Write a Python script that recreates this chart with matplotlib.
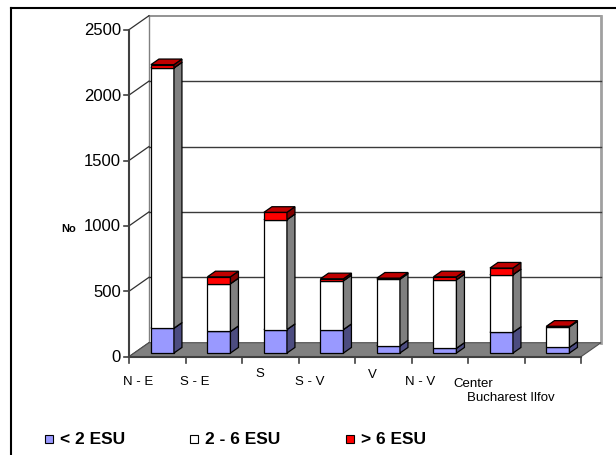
import matplotlib
matplotlib.use("Agg")
import matplotlib.pyplot as plt
from matplotlib.patches import Polygon, Rectangle
from matplotlib.lines import Line2D

plt.rcParams["font.family"] = ["Liberation Sans", "DejaVu Sans"]

# farms per development region, split by economic size class
regions = ["N - E", "S - E", "S", "S - V", "V", "N - V", "Center", "Bucharest Ilfov"]
small = [190, 165, 180, 180, 55, 37, 158, 44]        # < 2 ESU
medium = [1990, 365, 840, 373, 510, 523, 441, 157]   # 2 - 6 ESU
large = [25, 53, 56, 15, 8, 23, 51, 4]               # > 6 ESU
series_names = ["< 2 ESU", "2 - 6 ESU", "> 6 ESU"]
yticks = [0, 500, 1000, 1500, 2000, 2500]

# front, side and top shading of each series
face_colors = [
    ("#9999ff", "#4c4c80", "#7a7acc"),
    ("#ffffff", "#808080", "#cccccc"),
    ("#ff0000", "#800000", "#c00000"),
]

W, H = 616, 456
fig = plt.figure(figsize=(W / 100, H / 100), dpi=100)
ax = fig.add_axes([0, 0, 1, 1])

# pixel scale of the front plane: one category, one value unit
cat_px = 56.5
val_px = 0.1308
x0_px, y0_px = 129, 357.7
ax.set_xlim(-x0_px / cat_px, (W - x0_px) / cat_px)
ax.set_ylim((y0_px - H) / val_px, y0_px / val_px)
ax.axis("off")

ncat = len(regions)
ymax = yticks[-1]
# depth of the floor / walls in data units
DX = 20 / cat_px
DY = 14 / val_px

# back wall
ax.add_patch(Polygon([(DX, DY), (ncat + DX, DY), (ncat + DX, ymax + DY), (DX, ymax + DY)],
                     closed=True, facecolor="white", edgecolor="none", zorder=1))
ax.plot([DX, ncat + DX], [ymax + DY, ymax + DY], color="#808080", lw=1.2, zorder=2)
ax.plot([ncat + DX, ncat + DX], [DY, ymax + DY], color="#a0a0a0", lw=2.0, zorder=2)
ax.plot([DX, DX], [DY, ymax + DY], color="#808080", lw=1.0, zorder=2)

# gridlines on the back wall and their diagonals to the front axis
for v in yticks:
    if 0 < v < ymax:
        ax.plot([DX, ncat + DX], [v + DY, v + DY], color="#3a3a3a", lw=1.0, zorder=2)
    ax.plot([0, DX], [v, v + DY], color="#303030", lw=0.9, zorder=2)

# floor
ax.add_patch(Polygon([(0, 0), (ncat, 0), (ncat + DX, DY), (DX, DY)],
                     closed=True, facecolor="#808080", edgecolor="#505050", lw=0.8, zorder=3))

# front value axis with ticks and labels
tick_len = 5 / cat_px
ax.plot([0, 0], [0, ymax], color="#404040", lw=1.5, zorder=4)
for v in yticks:
    ax.plot([-tick_len, 0], [v, v], color="#404040", lw=1.2, zorder=4)
    ax.text(-8 / cat_px, v, str(v), ha="right", va="center", fontsize=12)

# category axis line and ticks at the category boundaries
ax.plot([0, ncat], [0, 0], color="#404040", lw=1.5, zorder=4)
for i in range(ncat + 1):
    ax.plot([i, i], [0, -6 / val_px], color="#404040", lw=1.2, zorder=4)

ax.text(-60 / cat_px, (y0_px - 229) / val_px, "No", ha="center", va="center",
        fontsize=8, fontweight="bold")

# staggered category labels
label_x = [0.16, 1.17, 2.31, 3.20, 4.30, 5.15, 6.09, 6.76]
label_y = [-186, -186, -125, -186, -136, -186, -201, -308]
for name, lx, ly in zip(regions, label_x, label_y):
    ax.text(lx, ly, name, ha="center", va="center", fontsize=9.5)

# stacked 3-d bars
bar_w = 23 / cat_px
f_front, f_depth = 0.26, 0.4
bdx, bdy = f_front * DX, f_front * DY
sdx, sdy = f_depth * DX, f_depth * DY

for i in range(ncat):
    xl = i + 0.5 - bar_w / 2 + bdx
    xr = xl + bar_w
    base = 0
    for vals, (c_front, c_side, c_top) in zip((small, medium, large), face_colors):
        top = base + vals[i]
        b, t = base + bdy, top + bdy
        kw = dict(closed=True, edgecolor="black", lw=0.9, zorder=5 + i * 0.01)
        ax.add_patch(Polygon([(xl, b), (xr, b), (xr, t), (xl, t)], facecolor=c_front, **kw))
        ax.add_patch(Polygon([(xr, b), (xr + sdx, b + sdy), (xr + sdx, t + sdy), (xr, t)],
                             facecolor=c_side, **kw))
        ax.add_patch(Polygon([(xl, t), (xr, t), (xr + sdx, t + sdy), (xl + sdx, t + sdy)],
                             facecolor=c_top, **kw))
        base = top

# legend row
leg_x = [45, 190, 346]
leg_y = 440
for name, x, (c_front, _, _) in zip(series_names, leg_x, face_colors):
    fig.add_artist(Rectangle((x / W, 1 - (leg_y + 4) / H), 8 / W, 8 / H,
                             transform=fig.transFigure, facecolor=c_front,
                             edgecolor="black", lw=0.8))
    fig.text((x + 15) / W, 1 - leg_y / H, name, ha="left", va="center",
             fontsize=12.5, fontweight="bold")

# outer frame (top and left edges)
fig.add_artist(Line2D([11 / W, 1], [1 - 9 / H, 1 - 9 / H], transform=fig.transFigure,
                      color="black", lw=1.5))
fig.add_artist(Line2D([11 / W, 11 / W], [0, 1 - 9 / H], transform=fig.transFigure,
                      color="black", lw=1.5))

fig.savefig("out.png", dpi=100)
